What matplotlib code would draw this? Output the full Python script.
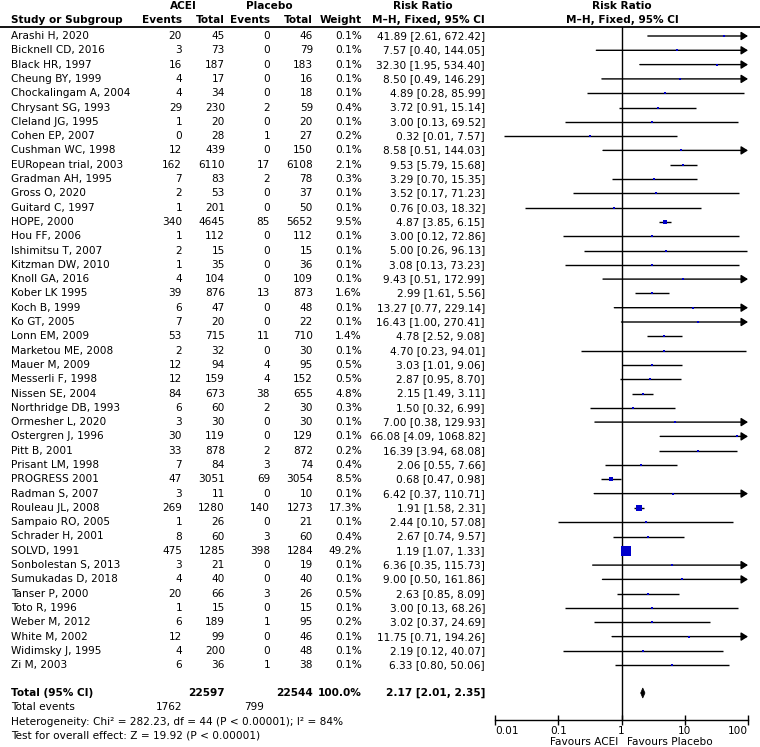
import matplotlib
matplotlib.use("Agg")
import matplotlib.pyplot as plt
import numpy as np

plt.rcParams['font.family'] = ['DejaVu Sans']

studies = ["Arashi H, 2020", "Bicknell CD, 2016", "Black HR, 1997", "Cheung BY, 1999",
           "Chockalingam A, 2004", "Chrysant SG, 1993", "Cleland JG, 1995", "Cohen EP, 2007",
           "Cushman WC, 1998", "EURopean trial, 2003", "Gradman AH, 1995", "Gross O, 2020",
           "Guitard C, 1997", "HOPE, 2000", "Hou FF, 2006", "Ishimitsu T, 2007",
           "Kitzman DW, 2010", "Knoll GA, 2016", "Kober LK 1995", "Koch B, 1999",
           "Ko GT, 2005", "Lonn EM, 2009", "Marketou ME, 2008", "Mauer M, 2009",
           "Messerli F, 1998", "Nissen SE, 2004", "Northridge DB, 1993", "Ormesher L, 2020",
           "Ostergren J, 1996", "Pitt B, 2001", "Prisant LM, 1998", "PROGRESS 2001",
           "Radman S, 2007", "Rouleau JL, 2008", "Sampaio RO, 2005", "Schrader H, 2001",
           "SOLVD, 1991", "Sonbolestan S, 2013", "Sumukadas D, 2018", "Tanser P, 2000",
           "Toto R, 1996", "Weber M, 2012", "White M, 2002", "Widimsky J, 1995", "Zi M, 2003"]
acei_events = [20, 3, 16, 4, 4, 29, 1, 0, 12, 162, 7, 2, 1, 340, 1, 2, 1, 4, 39, 6, 7, 53, 2, 12,
               12, 84, 6, 3, 30, 33, 7, 47, 3, 269, 1, 8, 475, 3, 4, 20, 1, 6, 12, 4, 6]
acei_total = [45, 73, 187, 17, 34, 230, 20, 28, 439, 6110, 83, 53, 201, 4645, 112, 15, 35, 104,
              876, 47, 20, 715, 32, 94, 159, 673, 60, 30, 119, 878, 84, 3051, 11, 1280, 26, 60,
              1285, 21, 40, 66, 15, 189, 99, 200, 36]
plac_events = [0, 0, 0, 0, 0, 2, 0, 1, 0, 17, 2, 0, 0, 85, 0, 0, 0, 0, 13, 0, 0, 11, 0, 4, 4,
               38, 2, 0, 0, 2, 3, 69, 0, 140, 0, 3, 398, 0, 0, 3, 0, 1, 0, 0, 1]
plac_total = [46, 79, 183, 16, 18, 59, 20, 27, 150, 6108, 78, 37, 50, 5652, 112, 15, 36, 109,
              873, 48, 22, 710, 30, 95, 152, 655, 30, 30, 129, 872, 74, 3054, 10, 1273, 21, 60,
              1284, 19, 40, 26, 15, 95, 46, 48, 38]
weights = [0.1, 0.1, 0.1, 0.1, 0.1, 0.4, 0.1, 0.2, 0.1, 2.1, 0.3, 0.1, 0.1, 9.5, 0.1, 0.1, 0.1,
           0.1, 1.6, 0.1, 0.1, 1.4, 0.1, 0.5, 0.5, 4.8, 0.3, 0.1, 0.1, 0.2, 0.4, 8.5, 0.1, 17.3,
           0.1, 0.4, 49.2, 0.1, 0.1, 0.5, 0.1, 0.2, 0.1, 0.1, 0.1]
rr = [41.89, 7.57, 32.30, 8.50, 4.89, 3.72, 3.00, 0.32, 8.58, 9.53, 3.29, 3.52, 0.76, 4.87, 3.00,
      5.00, 3.08, 9.43, 2.99, 13.27, 16.43, 4.78, 4.70, 3.03, 2.87, 2.15, 1.50, 7.00, 66.08,
      16.39, 2.06, 0.68, 6.42, 1.91, 2.44, 2.67, 1.19, 6.36, 9.00, 2.63, 3.00, 3.02, 11.75,
      2.19, 6.33]
ci_low = [2.61, 0.40, 1.95, 0.49, 0.28, 0.91, 0.13, 0.0137, 0.51, 5.79, 0.70, 0.17, 0.03, 3.85,
          0.12, 0.26, 0.13, 0.51, 1.61, 0.77, 1.00, 2.52, 0.23, 1.01, 0.95, 1.49, 0.32, 0.38,
          4.09, 3.94, 0.55, 0.47, 0.37, 1.58, 0.10, 0.74, 1.07, 0.35, 0.50, 0.85, 0.13, 0.37,
          0.71, 0.12, 0.80]
ci_high = [672.42, 144.05, 534.40, 146.29, 85.99, 15.14, 69.52, 7.57, 144.03, 15.68, 15.35,
           71.23, 18.32, 6.15, 72.86, 96.13, 73.23, 172.99, 5.56, 229.14, 270.41, 9.08, 94.01,
           9.06, 8.70, 3.11, 6.99, 129.93, 1068.82, 68.08, 7.66, 0.98, 110.71, 2.31, 57.08,
           9.57, 1.33, 115.73, 161.86, 8.09, 68.26, 24.69, 194.26, 40.07, 50.06]

total_acei, total_plac = 22597, 22544
total_rr, total_low, total_high = 2.17, 2.01, 2.35
events_acei_sum, events_plac_sum = 1762, 799
het_text = "Heterogeneity: Chi\u00b2 = 282.23, df = 44 (P < 0.00001); I\u00b2 = 84%"
test_text = "Test for overall effect: Z = 19.92 (P < 0.00001)"
x_ticks = [0.01, 0.1, 1, 10, 100]
x_ticklabels = ["0.01", "0.1", "1", "10", "100"]

W, H = 760, 747
fig = plt.figure(figsize=(W / 100, H / 100), dpi=100)

row0, rowh = 36.0, 14.3
def row_of(px):
    return (px - row0) / rowh

FS = 7.6
BLUE = '#0000CC'

# table axes covering the figure
ax_t = fig.add_axes([0, 0, 1, 1])
ax_t.set_xlim(0, W)
ax_t.set_ylim(row_of(H), row_of(0))
ax_t.axis('off')

# forest axes
px_l, px_r, px_top, px_bot = 495, 748, 27, 720
ax_p = fig.add_axes([px_l / W, 1 - px_bot / H, (px_r - px_l) / W, (px_bot - px_top) / H])
ax_p.set_xscale('log')
ax_p.set_xlim(0.01, 100)
ax_p.set_ylim(row_of(px_bot), row_of(px_top))
ax_p.patch.set_alpha(0)
for s in ['top', 'left', 'right']:
    ax_p.spines[s].set_visible(False)
ax_p.spines['bottom'].set_linewidth(1.0)
ax_p.set_yticks([])
ax_p.set_xticks(x_ticks)
ax_p.set_xticklabels(x_ticklabels)
ax_p.minorticks_off()
ax_p.tick_params(axis='x', direction='inout', length=7, width=1.0, labelsize=FS, pad=1)
lbls = ax_p.get_xticklabels()
lbls[0].set_ha('left')
lbls[-1].set_ha('right')
ax_p.axvline(1, color='black', lw=1.0)

# header
hdr_y1, hdr_y2 = row_of(6), row_of(20)
col_ev_a, col_tot_a, col_ev_p, col_tot_p, col_w, col_rr = 182, 225, 270, 313, 362, 485
ax_t.text(183, hdr_y1, "ACEI", ha='center', va='center', fontsize=FS, fontweight='bold')
ax_t.text(269, hdr_y1, "Placebo", ha='center', va='center', fontsize=FS, fontweight='bold')
ax_t.text(423, hdr_y1, "Risk Ratio", ha='center', va='center', fontsize=FS, fontweight='bold')
ax_t.text(622, hdr_y1, "Risk Ratio", ha='center', va='center', fontsize=FS, fontweight='bold')
ax_t.text(11, hdr_y2, "Study or Subgroup", ha='left', va='center', fontsize=FS, fontweight='bold')
for x, t in [(col_ev_a, "Events"), (col_tot_a, "Total"), (col_ev_p, "Events"),
             (col_tot_p, "Total"), (col_w, "Weight"), (col_rr, "M\u2013H, Fixed, 95% CI")]:
    ax_t.text(x, hdr_y2, t, ha='right', va='center', fontsize=FS, fontweight='bold')
ax_t.text(622, hdr_y2, "M\u2013H, Fixed, 95% CI", ha='center', va='center', fontsize=FS,
          fontweight='bold')
ax_t.plot([0, W], [row_of(27), row_of(27)], color='black', lw=1.3)

# rows
for i, name in enumerate(studies):
    ax_t.text(11, i, name, ha='left', va='center', fontsize=FS)
    ax_t.text(col_ev_a, i, str(acei_events[i]), ha='right', va='center', fontsize=FS)
    ax_t.text(col_tot_a, i, str(acei_total[i]), ha='right', va='center', fontsize=FS)
    ax_t.text(col_ev_p, i, str(plac_events[i]), ha='right', va='center', fontsize=FS)
    ax_t.text(col_tot_p, i, str(plac_total[i]), ha='right', va='center', fontsize=FS)
    ax_t.text(col_w, i, f"{weights[i]:.1f}%", ha='right', va='center', fontsize=FS)
    ax_t.text(col_rr, i, f"{rr[i]:.2f} [{ci_low[i]:.2f}, {ci_high[i]:.2f}]", ha='right',
              va='center', fontsize=FS)
    lo = max(ci_low[i], 0.01)
    hi = min(ci_high[i], 100)
    if ci_high[i] > 100:
        ax_p.annotate('', xy=(hi, i), xytext=(lo, i),
                      arrowprops=dict(arrowstyle='-|>,head_length=0.4,head_width=0.25',
                                      color='black', lw=1.0, shrinkA=0, shrinkB=0,
                                      mutation_scale=10))
    else:
        ax_p.plot([lo, hi], [i, i], color='black', lw=1.0, solid_capstyle='butt')
    side_px = max(2.2, 9.5 * np.sqrt(weights[i] / 49.2))
    ax_p.plot([rr[i]], [i], marker='s', linestyle='none', markersize=side_px * 0.72,
              markerfacecolor=BLUE, markeredgecolor=BLUE, markeredgewidth=0, zorder=5)

# totals
ty = row_of(693)
ax_t.text(11, ty, "Total (95% CI)", ha='left', va='center', fontsize=FS, fontweight='bold')
ax_t.text(col_tot_a, ty, str(total_acei), ha='right', va='center', fontsize=FS, fontweight='bold')
ax_t.text(col_tot_p, ty, str(total_plac), ha='right', va='center', fontsize=FS, fontweight='bold')
ax_t.text(col_w, ty, "100.0%", ha='right', va='center', fontsize=FS, fontweight='bold')
ax_t.text(col_rr, ty, f"{total_rr:.2f} [{total_low:.2f}, {total_high:.2f}]", ha='right',
          va='center', fontsize=FS, fontweight='bold')
dh = 5.0 / rowh
ax_p.fill([total_low, total_rr, total_high, total_rr], [ty, ty - dh, ty, ty + dh],
          color='black', lw=0.5)

ey = row_of(707)
ax_t.text(11, ey, "Total events", ha='left', va='center', fontsize=FS)
ax_t.text(col_ev_a, ey, str(events_acei_sum), ha='right', va='center', fontsize=FS)
ax_t.text(264, ey, str(events_plac_sum), ha='right', va='center', fontsize=FS)
ax_t.text(11, row_of(722), het_text, ha='left', va='center', fontsize=FS)
ax_t.text(11, row_of(736), test_text, ha='left', va='center', fontsize=FS)

ax_t.text(618, row_of(742), "Favours ACEI", ha='right', va='center', fontsize=FS)
ax_t.text(627, row_of(742), "Favours Placebo", ha='left', va='center', fontsize=FS)

fig.savefig("out.png", dpi=100)
